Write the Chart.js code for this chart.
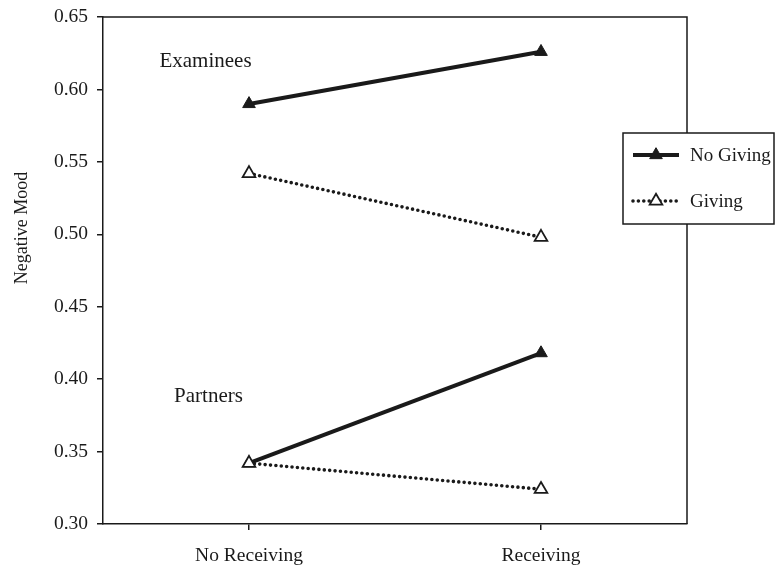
<!DOCTYPE html>
<html>
<head>
<meta charset="utf-8">
<style>
  html, body { margin: 0; padding: 0; background: #fff; }
  #wrap { width: 775px; height: 568px; position: relative; }
</style>
<script src="https://cdn.jsdelivr.net/npm/chart.js@4.4.1/dist/chart.umd.min.js"></script>
</head>
<body>
<div id="wrap"><canvas id="c" width="775" height="568"></canvas></div>
<script>
// Conditions on the x axis
const categories = ['No Receiving', 'Receiving'];

// Negative mood means per group and giving condition
const examineesNoGiving = [0.590, 0.626];
const examineesGiving   = [0.542, 0.498];
const partnersNoGiving  = [0.342, 0.418];
const partnersGiving    = [0.342, 0.324];

// Y axis range and tick step
const yMin = 0.30, yMax = 0.65, yStep = 0.05;

// Legend entries and group labels
const legendLabels = ['No Giving', 'Giving'];
const groupLabels = [
  { text: 'Examinees', x: 205.5, value: 0.6195 },
  { text: 'Partners',  x: 208.5, value: 0.3880 }
];

const INK = '#1a1a1a';
const SERIF = '"Liberation Serif", "Times New Roman", serif';

const solidStyle = {
  borderColor: INK, borderWidth: 4, borderDash: [],
  pointStyle: 'triangle', pointRadius: 7.3, pointBackgroundColor: INK,
  pointBorderColor: INK, pointBorderWidth: 1
};
const dottedStyle = {
  borderColor: INK, borderWidth: 3.6, borderDash: [0, 5.4], borderCapStyle: 'round',
  pointStyle: 'triangle', pointRadius: 7.3, pointBackgroundColor: '#fff',
  pointBorderColor: INK, pointBorderWidth: 1.8
};

const datasets = [
  Object.assign({ label: 'Examinees No Giving', data: examineesNoGiving, order: 4 }, solidStyle),
  Object.assign({ label: 'Examinees Giving', data: examineesGiving, order: 3 }, dottedStyle),
  Object.assign({ label: 'Partners No Giving', data: partnersNoGiving, order: 2 }, solidStyle),
  Object.assign({ label: 'Partners Giving', data: partnersGiving, order: 1 }, dottedStyle)
];

// Frame on top and right, group labels, y title and the boxed legend
const decorations = {
  id: 'decorations',
  afterDraw(chart) {
    const { ctx, chartArea: a, scales } = chart;
    ctx.save();
    // top and right edges of the frame
    ctx.strokeStyle = INK;
    ctx.lineWidth = 1.5;
    ctx.beginPath();
    ctx.moveTo(a.left, a.top);
    ctx.lineTo(a.right, a.top);
    ctx.lineTo(a.right, a.bottom);
    ctx.stroke();

    // group labels
    ctx.fillStyle = INK;
    ctx.font = '21px ' + SERIF;
    ctx.textAlign = 'center';
    ctx.textBaseline = 'middle';
    groupLabels.forEach(g => {
      ctx.fillText(g.text, g.x, scales.y.getPixelForValue(g.value));
    });

    // y axis title
    ctx.save();
    ctx.translate(22, 228);
    ctx.rotate(-Math.PI / 2);
    ctx.font = '18px ' + SERIF;
    ctx.fillText('Negative Mood', 0, 0);
    ctx.restore();

    // legend box
    const bx = 623, by = 133, bw = 151, bh = 91;
    ctx.fillStyle = '#fff';
    ctx.fillRect(bx, by, bw, bh);
    ctx.lineWidth = 1.5;
    ctx.strokeStyle = INK;
    ctx.strokeRect(bx, by, bw, bh);

    const rows = [
      { label: legendLabels[0], style: solidStyle, y: 155 },
      { label: legendLabels[1], style: dottedStyle, y: 201 }
    ];
    rows.forEach(r => {
      ctx.save();
      ctx.strokeStyle = r.style.borderColor;
      ctx.lineWidth = r.style.borderWidth;
      ctx.setLineDash(r.style.borderDash);
      ctx.lineCap = r.style.borderCapStyle || 'butt';
      ctx.beginPath();
      ctx.moveTo(633, r.y);
      ctx.lineTo(679, r.y);
      ctx.stroke();
      ctx.restore();
      ctx.save();
      ctx.fillStyle = r.style.pointBackgroundColor;
      ctx.strokeStyle = r.style.pointBorderColor;
      ctx.lineWidth = r.style.pointBorderWidth;
      Chart.helpers.drawPoint(ctx, {
        pointStyle: 'triangle', radius: r.style.pointRadius, rotation: 0,
        borderWidth: r.style.pointBorderWidth
      }, 656, r.y);
      ctx.restore();
      ctx.fillStyle = INK;
      ctx.font = '19px ' + SERIF;
      ctx.textAlign = 'left';
      ctx.textBaseline = 'middle';
      ctx.fillText(r.label, 690, r.y + 1);
    });
    ctx.restore();
  }
};

new Chart(document.getElementById('c'), {
  type: 'line',
  data: { labels: categories, datasets },
  options: {
    responsive: false,
    animation: false,
    devicePixelRatio: 1,
    layout: { padding: { top: 17, right: 88, bottom: 0, left: 0 } },
    plugins: { legend: { display: false }, tooltip: { enabled: false } },
    elements: { line: { tension: 0, fill: false } },
    scales: {
      x: {
        type: 'category',
        offset: true,
        border: { display: true, color: INK, width: 1.5 },
        grid: { drawOnChartArea: false, drawTicks: true, tickLength: 6, offset: false, color: INK, lineWidth: 1.5 },
        ticks: { color: INK, font: { family: SERIF, size: 19.5 }, padding: 14, maxRotation: 0 },
        afterFit(s) { s.height = 44; s.paddingLeft = 0; s.paddingRight = 0; }
      },
      y: {
        min: yMin, max: yMax,
        border: { display: true, color: INK, width: 1.5 },
        grid: { drawOnChartArea: false, drawTicks: true, tickLength: 6, color: INK, lineWidth: 1.5 },
        ticks: {
          stepSize: yStep, color: INK, font: { family: SERIF, size: 19.5 }, padding: 9,
          callback: v => Number(v).toFixed(2)
        },
        afterFit(s) { s.width = 103; s.paddingTop = 0; s.paddingBottom = 0; }
      }
    }
  },
  plugins: [decorations]
});
</script>
</body>
</html>
